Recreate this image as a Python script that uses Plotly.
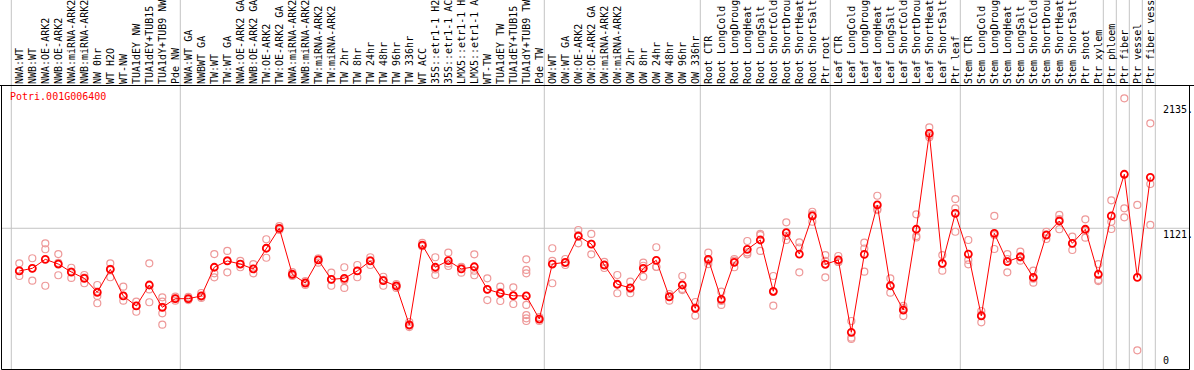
import plotly.graph_objects as go

categories = [
    "NWA:WT", "NWB:WT", "NWA:OE-ARK2", "NWB:OE-ARK2", "NWA:miRNA-ARK2", "NWB:miRNA-ARK2",
    "NW 0hr", "WT H2O", "WT-NW", "TUA1dEY NW", "TUA1dEY+TUB15 NW", "TUA1dY+TUB9 NW", "Pde NW",
    "NWA:WT GA", "NWBWT GA", "TW:WT", "TW:WT GA", "NWA:OE-ARK2 GA", "NWB:OE-ARK2 GA", "TW:OE-ARK2",
    "TW:OE-ARK2 GA", "NWA:miRNA-ARK2", "NWB:miRNA-ARK2", "TW:miRNA-ARK2", "TW:miRNA-ARK2",
    "TW 2hr", "TW 8hr", "TW 24hr", "TW 48hr", "TW 96hr", "TW 336hr", "WT ACC",
    "35S::etr1-1 H2O", "35S::etr1-1 ACC", "LMX5::etr1-1 H2O", "LMX5::etr1-1 ACC", "WT-TW",
    "TUA1dEY TW", "TUA1dEY+TUB15 TW", "TUA1dY+TUB9 TW", "Pde TW",
    "OW:WT", "OW:WT GA", "OW:OE-ARK2", "OW:OE-ARK2 GA", "OW:miRNA-ARK2", "OW:miRNA-ARK2",
    "OW 2hr", "OW 8hr", "OW 24hr", "OW 48hr", "OW 96hr", "OW 336hr",
    "Root CTR", "Root LongCold", "Root LongDrought", "Root LongHeat", "Root LongSalt",
    "Root ShortCold", "Root ShortDrought", "Root ShortHeat", "Root ShortSalt", "Ptr root",
    "Leaf CTR", "Leaf LongCold", "Leaf LongDrought", "Leaf LongHeat", "Leaf LongSalt",
    "Leaf ShortCold", "Leaf ShortDrought", "Leaf ShortHeat", "Leaf ShortSalt", "Ptr leaf",
    "Stem CTR", "Stem LongCold", "Stem LongDrought", "Stem LongHeat", "Stem LongSalt",
    "Stem ShortCold", "Stem ShortDrought", "Stem ShortHeat", "Stem ShortSalt", "Ptr shoot",
    "Ptr xylem", "Ptr phloem", "Ptr fiber", "Ptr vessel", "Ptr fiber vessel",
]

means = [
    775, 796, 869, 831, 766, 715, 602, 788, 572, 491, 661, 480, 550,
    550, 572, 805, 856, 831, 791, 959, 1121, 748, 677, 864, 707, 715,
    775, 856, 696, 653, 337, 985, 805, 858, 791, 809, 626, 594, 574, 572, 385,
    831, 845, 1058, 993, 823, 667, 637, 796, 861, 564, 661, 472,
    869, 545, 845, 950, 1026, 610, 1085, 912, 1221, 829,
    864, 277, 910, 1310, 655, 458, 1113, 1891, 837, 1242,
    912, 410, 1080, 850, 890, 723, 1066, 1180, 999, 1113,
    748, 1221, 1559, 723, 1534,
]

replicates = [
    [837, 734, 775], [878, 696, 796], [999, 951, 655], [912, 740, 840], [801, 718, 770],
    [742, 675, 720], [661, 572, 513], [837, 724, 791], [647, 534, 572], [526, 444, 491],
    [837, 521, 625], [561, 526, 431, 339, 483], [566, 534, 550],
    [564, 539, 548], [596, 556, 565], [912, 756, 723], [937, 764, 860], [856, 805, 831],
    [831, 756, 791], [1032, 882, 960], [1139, 1121, 1107], [766, 734, 745], [693, 661, 677],
    [878, 842, 864], [761, 655, 705], [805, 637, 700], [823, 724, 775], [823, 886, 860],
    [728, 655, 703], [669, 637, 653], [361, 320, 330], [1002, 976, 977], [886, 742, 787],
    [923, 815, 836], [809, 761, 803], [910, 740, 777], [715, 539, 624], [647, 531, 604],
    [642, 507, 573], [869, 783, 756, 499, 417, 391, 369], [401, 369, 385],
    [959, 856, 675], [872, 823, 840], [1107, 999, 1066], [1075, 910, 994], [848, 799, 823],
    [742, 594, 665], [688, 594, 628], [842, 728, 817], [967, 809, 807], [534, 588, 571],
    [734, 629, 620], [523, 412, 480],
    [923, 831, 856], [607, 499, 531], [872, 805, 858], [1018, 910, 925], [1066, 937, 1075],
    [734, 493, 604], [1169, 1026, 1059], [1007, 764, 965], [1255, 1174, 1233], [904, 723, 856],
    [896, 848, 848], [369, 234, 223], [1004, 769, 957], [1385, 1269, 1277], [715, 599, 653],
    [491, 409, 474], [1234, 1058, 1046], [1940, 1859, 1873], [904, 777, 831], [1358, 1283, 1093],
    [1026, 864, 829], [450, 358, 418], [1221, 953, 1066], [912, 764, 872], [931, 858, 884],
    [777, 680, 712], [1093, 1034, 1071], [1229, 1113, 1196], [1053, 945, 998], [1194, 1045, 1099],
    [831, 702, 693], [1348, 1174, 1115], [2175, 1283, 1210], [1310, 131], [1972, 1480, 1148],
]

# group separators: drawn after these category indices
separators_after = [-1, 12, 40, 52, 62, 72, 83, 84, 85, 86, 87]
y_labels = [2135, 1121, 0]
gene_name = "Potri.001G006400"

W, H = 1194, 370
HEADER = 85
FONT = "DejaVu Sans Mono"

fig = go.Figure()

rx, ry = [], []
for i, reps in enumerate(replicates):
    for v in reps:
        rx.append(i)
        ry.append(v)

fig.add_trace(go.Scatter(
    x=rx, y=ry, mode="markers", hoverinfo="skip",
    marker=dict(symbol="circle-open", size=7, color="#ee9999", line=dict(width=1.2)),
))
fig.add_trace(go.Scatter(
    x=list(range(len(means))), y=means, mode="lines+markers",
    line=dict(color="#ff0000", width=1),
    marker=dict(symbol="circle-open", size=7, color="#ff0000", line=dict(width=1.8)),
))

shapes = []
for s in separators_after:
    p = s + 5 / 13
    shapes.append(dict(type="line", xref="x", yref="paper", x0=p, x1=p, y0=1 / H, y1=1,
                       line=dict(color="#c4c4c4", width=1), layer="below"))
shapes.append(dict(type="line", xref="paper", yref="y", x0=1.5 / W, x1=1189.5 / W,
                   y0=y_labels[1], y1=y_labels[1], line=dict(color="#c4c4c4", width=1), layer="below"))
# frame
shapes.append(dict(type="line", xref="paper", yref="paper", x0=0, x1=1,
                   y0=(H - 85.5) / H, y1=(H - 85.5) / H, line=dict(color="black", width=1)))
shapes.append(dict(type="rect", xref="paper", yref="paper", x0=1.5 / W, x1=1189.5 / W,
                   y0=(H - 369.5) / H, y1=(H - 85.5) / H, line=dict(color="black", width=1)))

annotations = [dict(text=gene_name, xref="paper", yref="paper", x=8 / W, y=(H - 96.7) / H,
                    xanchor="left", yanchor="middle", showarrow=False,
                    font=dict(family=FONT, size=10, color="#ff0000"))]
for v in y_labels:
    annotations.append(dict(text=f"{v}." if v else "0", xref="paper", yref="y", x=1162 / W, y=v,
                            xanchor="left", yanchor="top" if v else "bottom", showarrow=False,
                            font=dict(family=FONT, size=10, color="black"), borderpad=0))

fig.update_layout(
    width=W, height=H, margin=dict(l=0, r=0, t=0, b=0),
    paper_bgcolor="white", plot_bgcolor="white", showlegend=False,
    xaxis=dict(range=[-1.485, 90.36], domain=[0, 1], side="top",
               tickmode="array", tickvals=list(range(len(categories))), ticktext=categories,
               tickangle=-90, ticks="", tickfont=dict(family=FONT, size=10, color="black"),
               showgrid=False, zeroline=False, showline=False, automargin=False, fixedrange=True),
    yaxis=dict(range=[-28.4, 2283], domain=[0, (H - HEADER) / H], showgrid=False, zeroline=False,
               showticklabels=False, showline=False, automargin=False, fixedrange=True),
    shapes=shapes, annotations=annotations,
)

fig.write_html("out.html", config={"displayModeBar": False},
               post_script="document.body.style.margin='0px';document.body.style.overflow='hidden';")
